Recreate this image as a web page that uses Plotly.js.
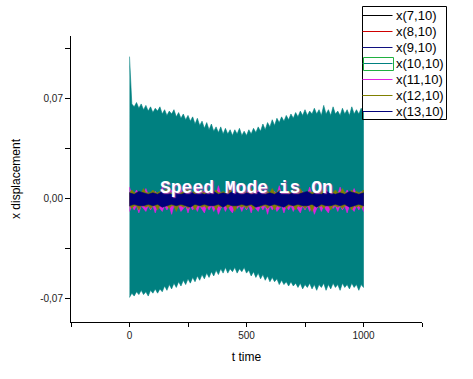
<!DOCTYPE html>
<html>
<head>
<meta charset="utf-8">
<script src="https://cdn.plot.ly/plotly-3.0.1.min.js"></script>
<style>html,body{margin:0;padding:0;background:#fff;}#chart{width:473px;height:379px;}</style>
</head>
<body>
<div id="chart"></div>
<script>
// ---- data ----
const tDense = [0,10,20,30,40,50,60,70,80,90,100,110,120,130,140,150,160,170,180,190,200,210,220,230,240,250,260,270,280,290,300,310,320,330,340,350,360,370,380,390,400,410,420,430,440,450,460,470,480,490,500,510,520,530,540,550,560,570,580,590,600,610,620,630,640,650,660,670,680,690,700,710,720,730,740,750,760,770,780,790,800,810,820,830,840,850,860,870,880,890,900,910,920,930,940,950,960,970,980,990,1000];
const x10Upper = [0.099,0.066,0.064,0.067,0.063,0.066,0.062,0.065,0.061,0.064,0.060,0.063,0.061,0.064,0.059,0.062,0.058,0.061,0.059,0.062,0.057,0.060,0.056,0.059,0.055,0.058,0.054,0.057,0.052,0.056,0.051,0.054,0.049,0.053,0.048,0.052,0.047,0.050,0.046,0.050,0.045,0.049,0.045,0.048,0.044,0.048,0.045,0.049,0.044,0.047,0.044,0.048,0.045,0.049,0.046,0.050,0.047,0.052,0.048,0.053,0.050,0.055,0.051,0.056,0.053,0.057,0.054,0.058,0.055,0.059,0.056,0.060,0.057,0.061,0.058,0.062,0.058,0.061,0.059,0.063,0.059,0.062,0.058,0.065,0.059,0.062,0.058,0.064,0.059,0.061,0.058,0.063,0.059,0.062,0.058,0.064,0.059,0.062,0.059,0.063,0.060];
const x10Lower = [-0.069,-0.066,-0.068,-0.065,-0.067,-0.064,-0.067,-0.065,-0.068,-0.064,-0.066,-0.063,-0.066,-0.063,-0.065,-0.061,-0.064,-0.060,-0.063,-0.059,-0.062,-0.058,-0.061,-0.057,-0.060,-0.056,-0.059,-0.055,-0.058,-0.054,-0.057,-0.053,-0.056,-0.052,-0.055,-0.051,-0.054,-0.050,-0.053,-0.049,-0.052,-0.048,-0.052,-0.049,-0.051,-0.048,-0.052,-0.049,-0.051,-0.048,-0.052,-0.050,-0.054,-0.051,-0.055,-0.052,-0.056,-0.053,-0.057,-0.054,-0.058,-0.055,-0.058,-0.056,-0.060,-0.057,-0.060,-0.058,-0.061,-0.058,-0.061,-0.059,-0.062,-0.059,-0.063,-0.060,-0.062,-0.059,-0.063,-0.060,-0.064,-0.060,-0.062,-0.059,-0.064,-0.060,-0.063,-0.059,-0.062,-0.060,-0.064,-0.059,-0.062,-0.060,-0.063,-0.059,-0.062,-0.060,-0.064,-0.060,-0.062];
const x11Upper = [0.008,0.003,0.003,0.006,0.003,0.003,0.003,0.007,0.003,0.003,0.003,0.005,0.003,0.003,0.008,0.003,0.003,0.003,0.006,0.003,0.003,0.003,0.007,0.003,0.003,0.005,0.003,0.003,0.003,0.008,0.003,0.003,0.006,0.003,0.003,0.003,0.005,0.003,0.009,0.003,0.003,0.003,0.006,0.003,0.003,0.007,0.003,0.003,0.003,0.005,0.003,0.008,0.003,0.003,0.003,0.006,0.003,0.003,0.007,0.003,0.003,0.003,0.005,0.003,0.009,0.003,0.003,0.006,0.003,0.003,0.003,0.007,0.003,0.003,0.005,0.003,0.003,0.008,0.003,0.003,0.003,0.006,0.003,0.003,0.007,0.003,0.003,0.003,0.005,0.003,0.008,0.003,0.003,0.006,0.003,0.003,0.007,0.003,0.003,0.005,0.003];
const x11Lower = [-0.009,-0.005,-0.008,-0.005,-0.010,-0.005,-0.007,-0.009,-0.005,-0.008,-0.005,-0.010,-0.005,-0.007,-0.009,-0.005,-0.008,-0.005,-0.011,-0.005,-0.008,-0.005,-0.009,-0.007,-0.005,-0.010,-0.005,-0.008,-0.005,-0.009,-0.005,-0.007,-0.010,-0.005,-0.008,-0.005,-0.009,-0.005,-0.011,-0.007,-0.005,-0.009,-0.005,-0.008,-0.010,-0.005,-0.007,-0.005,-0.009,-0.005,-0.008,-0.005,-0.010,-0.005,-0.007,-0.009,-0.005,-0.008,-0.005,-0.011,-0.005,-0.008,-0.005,-0.009,-0.007,-0.005,-0.010,-0.005,-0.008,-0.005,-0.009,-0.005,-0.007,-0.010,-0.005,-0.008,-0.005,-0.009,-0.005,-0.011,-0.007,-0.005,-0.009,-0.005,-0.008,-0.010,-0.005,-0.007,-0.005,-0.009,-0.005,-0.008,-0.005,-0.010,-0.005,-0.007,-0.009,-0.005,-0.008,-0.005,-0.009];
const x12Upper = [0.004,0.006,0.004,0.004,0.005,0.004,0.007,0.004,0.004,0.004,0.006,0.004,0.004,0.005,0.004,0.004,0.007,0.004,0.004,0.006,0.004,0.004,0.004,0.005,0.004,0.007,0.004,0.004,0.006,0.004,0.004,0.005,0.004,0.004,0.004,0.007,0.004,0.006,0.004,0.004,0.005,0.004,0.004,0.007,0.004,0.004,0.004,0.006,0.004,0.005,0.004,0.004,0.007,0.004,0.004,0.004,0.006,0.004,0.004,0.005,0.004,0.007,0.004,0.004,0.006,0.004,0.004,0.004,0.005,0.004,0.004,0.006,0.004,0.007,0.004,0.004,0.004,0.005,0.004,0.006,0.004,0.004,0.007,0.004,0.004,0.004,0.005,0.004,0.006,0.004,0.004,0.007,0.004,0.004,0.004,0.006,0.004,0.005,0.004,0.004,0.006];
const x12Lower = [-0.005,-0.007,-0.005,-0.005,-0.008,-0.005,-0.005,-0.006,-0.005,-0.007,-0.005,-0.005,-0.008,-0.005,-0.006,-0.005,-0.005,-0.007,-0.005,-0.005,-0.009,-0.005,-0.005,-0.006,-0.005,-0.007,-0.005,-0.005,-0.008,-0.005,-0.005,-0.006,-0.005,-0.007,-0.005,-0.005,-0.005,-0.008,-0.005,-0.006,-0.005,-0.005,-0.007,-0.005,-0.005,-0.009,-0.005,-0.005,-0.006,-0.005,-0.007,-0.005,-0.005,-0.008,-0.005,-0.005,-0.006,-0.005,-0.005,-0.007,-0.005,-0.005,-0.008,-0.005,-0.006,-0.005,-0.005,-0.007,-0.005,-0.005,-0.005,-0.008,-0.005,-0.006,-0.005,-0.007,-0.005,-0.005,-0.009,-0.005,-0.005,-0.006,-0.005,-0.007,-0.005,-0.005,-0.008,-0.005,-0.005,-0.006,-0.005,-0.007,-0.005,-0.005,-0.005,-0.008,-0.005,-0.006,-0.005,-0.007,-0.005];

const tInner = [0,20,40,60,80,100,120,140,160,180,200,220,240,260,280,300,320,340,360,380,400,420,440,460,480,500,520,540,560,580,600,620,640,660,680,700,720,740,760,780,800,820,840,860,880,900,920,940,960,980,1000];
const x7Upper  = [0.003,0.002,0.003,0.002,0.003,0.002,0.003,0.002,0.003,0.002,0.003,0.002,0.003,0.002,0.003,0.002,0.003,0.002,0.003,0.002,0.003,0.002,0.003,0.002,0.003,0.002,0.003,0.002,0.003,0.002,0.003,0.002,0.003,0.002,0.003,0.002,0.003,0.002,0.003,0.002,0.003,0.002,0.003,0.002,0.003,0.002,0.003,0.002,0.003,0.002,0.003];
const x7Lower  = [-0.003,-0.002,-0.003,-0.002,-0.003,-0.002,-0.003,-0.002,-0.003,-0.002,-0.003,-0.002,-0.003,-0.002,-0.003,-0.002,-0.003,-0.002,-0.003,-0.002,-0.003,-0.002,-0.003,-0.002,-0.003,-0.002,-0.003,-0.002,-0.003,-0.002,-0.003,-0.002,-0.003,-0.002,-0.003,-0.002,-0.003,-0.002,-0.003,-0.002,-0.003,-0.002,-0.003,-0.002,-0.003,-0.002,-0.003,-0.002,-0.003,-0.002,-0.003];
const x8Upper  = [0.003,0.004,0.003,0.004,0.003,0.004,0.003,0.004,0.003,0.004,0.003,0.004,0.003,0.004,0.003,0.004,0.003,0.004,0.003,0.004,0.003,0.004,0.003,0.004,0.003,0.004,0.003,0.004,0.003,0.004,0.003,0.004,0.003,0.004,0.003,0.004,0.003,0.004,0.003,0.004,0.003,0.004,0.003,0.004,0.003,0.004,0.003,0.004,0.003,0.004,0.003];
const x8Lower  = [-0.004,-0.003,-0.004,-0.003,-0.004,-0.003,-0.004,-0.003,-0.004,-0.003,-0.004,-0.003,-0.004,-0.003,-0.004,-0.003,-0.004,-0.003,-0.004,-0.003,-0.004,-0.003,-0.004,-0.003,-0.004,-0.003,-0.004,-0.003,-0.004,-0.003,-0.004,-0.003,-0.004,-0.003,-0.004,-0.003,-0.004,-0.003,-0.004,-0.003,-0.004,-0.003,-0.004,-0.003,-0.004,-0.003,-0.004,-0.003,-0.004,-0.003,-0.004];
const x9Upper  = [0.004,0.005,0.003,0.005,0.004,0.003,0.005,0.004,0.004,0.005,0.003,0.004,0.005,0.004,0.003,0.005,0.004,0.005,0.003,0.004,0.005,0.004,0.004,0.005,0.003,0.004,0.005,0.004,0.003,0.005,0.004,0.005,0.004,0.003,0.005,0.004,0.005,0.003,0.004,0.005,0.004,0.003,0.005,0.004,0.005,0.004,0.003,0.005,0.004,0.005,0.004];
const x9Lower  = [-0.005,-0.004,-0.005,-0.004,-0.006,-0.004,-0.005,-0.005,-0.004,-0.005,-0.006,-0.004,-0.005,-0.004,-0.005,-0.006,-0.004,-0.005,-0.005,-0.004,-0.006,-0.005,-0.004,-0.005,-0.005,-0.004,-0.006,-0.005,-0.004,-0.005,-0.006,-0.004,-0.005,-0.005,-0.004,-0.006,-0.005,-0.004,-0.005,-0.005,-0.006,-0.004,-0.005,-0.005,-0.004,-0.006,-0.005,-0.004,-0.005,-0.005,-0.004];
const x13Upper = [0.004,0.003,0.005,0.004,0.003,0.004,0.003,0.005,0.004,0.003,0.004,0.003,0.004,0.005,0.003,0.004,0.003,0.004,0.005,0.003,0.004,0.003,0.005,0.004,0.003,0.004,0.003,0.004,0.005,0.003,0.004,0.003,0.005,0.004,0.003,0.004,0.003,0.004,0.005,0.003,0.004,0.003,0.005,0.004,0.003,0.004,0.003,0.005,0.004,0.003,0.004];
const x13Lower = [-0.005,-0.004,-0.005,-0.005,-0.004,-0.005,-0.004,-0.006,-0.005,-0.004,-0.005,-0.004,-0.005,-0.006,-0.004,-0.005,-0.004,-0.005,-0.005,-0.004,-0.006,-0.004,-0.005,-0.005,-0.004,-0.005,-0.004,-0.006,-0.005,-0.004,-0.005,-0.004,-0.005,-0.006,-0.004,-0.005,-0.004,-0.005,-0.005,-0.004,-0.006,-0.004,-0.005,-0.005,-0.004,-0.005,-0.004,-0.006,-0.005,-0.004,-0.005];

const seriesNames = ["x(7,10)","x(8,10)","x(9,10)","x(10,10)","x(11,10)","x(12,10)","x(13,10)"];
const seriesColors = ["#000000","#d00000","#101080","#008080","#e020e0","#808000","#00007a"];
const yTickVals = [-0.07, 0, 0.07];
const yTickText = ["-0,07", "0,00", "0,07"];
const xTickVals = [0, 500, 1000];
const xTickText = ["0", "500", "1000"];
const annotationText = "Speed Mode is On";

// ---- build traces ----
const bands = [
  [tInner, x7Upper, x7Lower],
  [tInner, x8Upper, x8Lower],
  [tInner, x9Upper, x9Lower],
  [tDense, x10Upper, x10Lower],
  [tDense, x11Upper, x11Lower],
  [tDense, x12Upper, x12Lower],
  [tInner, x13Upper, x13Lower]
];
const traces = bands.map((b, i) => {
  const t = b[0], up = b[1], lo = b[2];
  return {
    x: t.concat(t.slice().reverse()),
    y: up.concat(lo.slice().reverse()),
    type: "scatter", mode: "lines", fill: "toself",
    fillcolor: seriesColors[i],
    line: {color: seriesColors[i], width: 0.6},
    name: seriesNames[i], showlegend: false, hoverinfo: "skip"
  };
});

// ---- layout geometry (pixels) ----
const W = 473, H = 379, ML = 71, MR = 51, MT = 36, MB = 57;
const PW = W - ML - MR, PH = H - MT - MB;
const px2x = p => (p - ML) / PW;
const px2y = p => (H - MB - p) / PH;

// custom legend (Origin style, tight rows)
const LEG = {left: 362.5, right: 446.5, top: 6.5, bottom: 119.5, firstRow: 15.5, rowGap: 16, lineLen: 30, textGap: 3};
const shapes = [{
  type: "rect", xref: "paper", yref: "paper",
  x0: px2x(LEG.left), x1: px2x(LEG.right), y0: px2y(LEG.bottom), y1: px2y(LEG.top),
  line: {color: "#000", width: 1}, fillcolor: "rgba(0,0,0,0)"
}];
const annotations = [{
  xref: "paper", yref: "paper", x: 0.501, y: 0.4685,
  text: annotationText, showarrow: false,
  font: {family: "Liberation Mono, Courier New, monospace", size: 18, color: "#ffffff", weight: "bold", shadow: "1px 1px 1px #b050b0"}
}];
seriesNames.forEach((n, i) => {
  const yc = LEG.firstRow + i * LEG.rowGap;
  shapes.push({
    type: "line", xref: "paper", yref: "paper",
    x0: px2x(LEG.left), x1: px2x(LEG.left + LEG.lineLen), y0: px2y(yc), y1: px2y(yc),
    line: {color: seriesColors[i], width: 1}
  });
  annotations.push({
    xref: "paper", yref: "paper", x: px2x(LEG.left + LEG.lineLen + LEG.textGap - 2), y: px2y(yc),
    xanchor: "left", yanchor: "middle", showarrow: false, text: n,
    font: {family: "Liberation Sans, Arial, sans-serif", size: 13, color: "#000"}
  });
  if (n === "x(10,10)") {
    shapes.push({
      type: "rect", xref: "paper", yref: "paper",
      x0: px2x(LEG.left + 1), x1: px2x(LEG.left + LEG.lineLen + 1), y0: px2y(yc + 7), y1: px2y(yc - 6),
      line: {color: "#20b040", width: 1}, fillcolor: "rgba(0,0,0,0)"
    });
  }
});

const axisFont = {family: "Liberation Sans, Arial, sans-serif", size: 10, color: "#222"};
const titleFont = {family: "Liberation Sans, Arial, sans-serif", size: 12, color: "#000"};
const layout = {
  width: W, height: H,
  margin: {l: ML, r: MR, t: MT, b: MB},
  paper_bgcolor: "#fff", plot_bgcolor: "#fff",
  showlegend: false,
  xaxis: {
    range: [-250, 1250], showgrid: false, zeroline: false,
    showline: true, linecolor: "#000", linewidth: 1,
    ticks: "outside", ticklen: 4, tickcolor: "#000",
    tickvals: xTickVals, ticktext: xTickText, tickfont: axisFont,
    minor: {dtick: 250, tick0: 0, ticks: "outside", ticklen: 4, tickcolor: "#000"},
    title: {text: "t time", font: titleFont, standoff: 12}
  },
  yaxis: {
    range: [-0.0861, 0.1134], showgrid: false, zeroline: false,
    showline: true, linecolor: "#000", linewidth: 1,
    ticks: "outside", ticklen: 5, tickcolor: "#000",
    tickvals: yTickVals, ticktext: yTickText, tickfont: axisFont,
    minor: {dtick: 0.035, tick0: 0, ticks: "outside", ticklen: 5, tickcolor: "#000"},
    title: {text: "x displacement", font: titleFont, standoff: 17}
  },
  shapes: shapes,
  annotations: annotations
};
Plotly.newPlot("chart", traces, layout, {displayModeBar: false, staticPlot: true});
</script>
</body>
</html>
